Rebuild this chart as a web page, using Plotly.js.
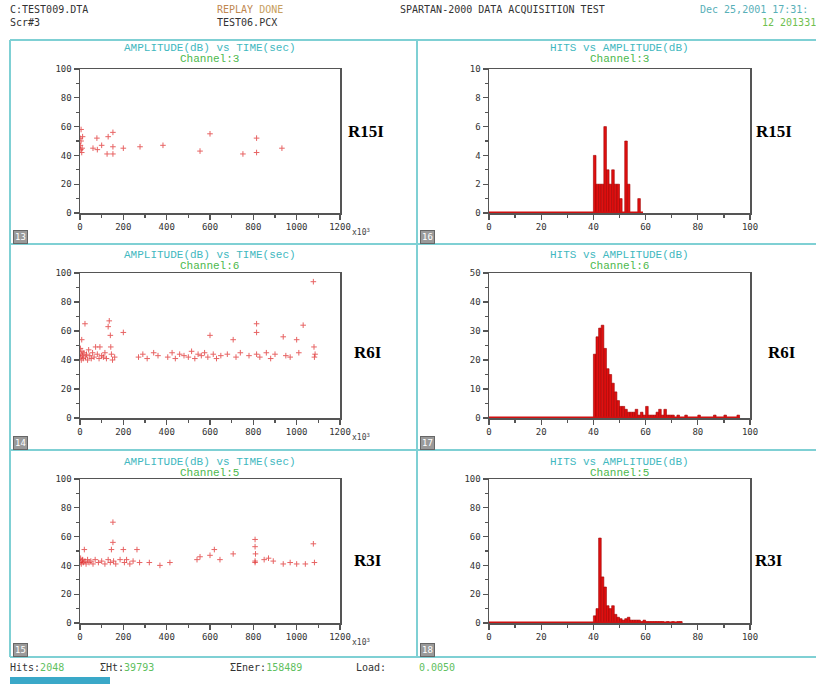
<!DOCTYPE html>
<html><head><meta charset="utf-8">
<script src="https://cdn.plot.ly/plotly-3.0.1.min.js"></script>
<style>html,body{margin:0;padding:0;background:#fff;}#chart{width:816px;height:684px;}</style>
</head><body><div id="chart"></div>
<script>
// ---------- DATA ----------
// Row 1 (R15I) amplitude vs time (time in x10^3 s)
const timeR15 = [0, 2, 4, 5, 5, 8, 10, 12, 60, 78, 80, 100, 125, 130, 152, 152, 152, 200, 277, 383, 554, 600, 752, 815, 815, 932];
const ampR15  = [52, 47, 44, 58, 50, 42, 45, 53, 45, 52, 44, 47, 41, 53, 56, 46, 41, 45, 46, 47, 43, 55, 41, 52, 42, 45];
// Row 2 (R6I)
const timeR6 = [0,2,4,6,8,9,12,15,18,23,26,30,35,40,45,52,58,65,72,80,88,92,100,108,115,122,130,135,140,142,145,150,160,200,270,290,310,340,360,405,425,440,460,480,500,515,530,545,560,575,590,600,615,630,650,680,707,720,740,780,815,815,815,830,860,880,900,938,950,970,1000,1010,1030,1077,1080,1082,1085];
const ampR6  = [42,48,44,40,54,46,43,41,45,65,42,44,40,47,43,41,45,42,49,44,41,49,43,42,45,41,63,67,57,49,44,40,42,59,42,44,41,45,43,42,45,41,44,43,42,46,41,44,43,45,42,57,44,41,43,44,54,42,45,43,65,59,44,42,45,41,44,56,43,42,54,45,64,94,49,42,44];
// Row 3 (R3I)
const timeR3 = [0,3,6,9,12,15,20,23,28,35,42,50,60,70,85,100,115,130,140,145,152,152,155,165,185,200,205,215,230,245,263,275,320,369,415,540,554,600,620,646,707,808,808,808,808,810,850,870,892,938,970,1000,1040,1077,1082];
const ampR3  = [42,45,41,43,44,42,51,43,41,44,42,43,41,44,42,43,41,44,42,51,70,56,43,41,44,51,42,44,41,43,51,42,42,40,42,44,46,47,51,44,48,43,42,58,53,48,44,45,43,41,42,41,41,55,42];

// Histograms: hits per 1 dB amplitude bin
const binsR15 = [40,41,42,43,44,45,46,47,48,49,50,52,53,57];
const hitsR15 = [4,2,2,2,6,3,2,3,2,2,1,5,2,1];
const lastBinR15 = 59;
const binsR6 = [40,41,42,43,44,45,46,47,48,49,50,51,52,53,54,55,56,57,58,59,60,61,62,63,64,65,66,67,68,69,70,72,75,80,86,90,95];
const hitsR6 = [22,28,31,32,24,17,15,12,9,6,4,4,3,2,2,2,3,1,2,1,4,1,1,1,2,3,1,3,1,1,1,1,1,1,1,1,1];
const lastBinR6 = 96;
const binsR3 = [40,41,42,43,44,45,46,47,48,49,50,51,52,53,54,55,56,57,58,59,60,61,62,63,64,65,66,68,70,72,73];
const hitsR3 = [5,10,59,32,25,12,10,12,6,4,3,2,3,4,2,2,2,2,1,2,1,1,1,1,1,1,1,1,1,1,1];
const lastBinR3 = 74;

const rowLabels = ['R15I', 'R6I', 'R3I'];
const channelLabels = ['Channel:3', 'Channel:6', 'Channel:5'];
const panelNumsLeft = ['13', '14', '15'];
const panelNumsRight = ['16', '17', '18'];
const histYMax = [10, 50, 100];
const histYMajor = [2, 10, 20];
const histYMinor = [1, 5, 10];

// ---------- LAYOUT HELPERS ----------
const W = 816, H = 684;
const px = x => x / W;
const py = y => 1 - y / H;
const colL = [80, 340], colR = [489, 750];
const rows = [[69, 213], [273, 418], [479, 623]];
const sepY = [40, 244, 450, 657];

const RED = '#e01010';
const tickFont = {family: 'DejaVu Sans Mono', size: 9, color: '#333'};

function axisBase(extra) {
  return Object.assign({
    showline: true, linecolor: '#555', linewidth: 1.5, mirror: true,
    ticks: 'outside', ticklen: 5, tickwidth: 1.2, tickcolor: '#555',
    showgrid: false, zeroline: false, tickfont: tickFont, fixedrange: true
  }, extra);
}

const data = [];
const layout = {
  width: W, height: H, margin: {l: 0, r: 0, t: 0, b: 0},
  paper_bgcolor: '#fff', plot_bgcolor: '#fff', showlegend: false,
  annotations: [], shapes: [], bargap: 0
};

const scatterSets = [[timeR15, ampR15], [timeR6, ampR6], [timeR3, ampR3]];
const histSets = [[binsR15, hitsR15, lastBinR15], [binsR6, hitsR6, lastBinR6], [binsR3, hitsR3, lastBinR3]];

for (let r = 0; r < 3; r++) {
  const li = 2 * r + 1, ri = 2 * r + 2;
  const lx = 'x' + (li === 1 ? '' : li), ly = 'y' + (li === 1 ? '' : li);
  const rx = 'x' + ri, ry = 'y' + ri;
  const yDom = [py(rows[r][1]), py(rows[r][0])];

  layout['xaxis' + (li === 1 ? '' : li)] = axisBase({domain: [px(colL[0]), px(colL[1])], anchor: ly, range: [0, 1200], dtick: 200, tick0: 0, minor: {dtick: 100, ticks: 'outside', ticklen: 3, tickcolor: '#555', showgrid: false}});
  layout['yaxis' + (li === 1 ? '' : li)] = axisBase({domain: yDom, anchor: lx, range: [0, 100], dtick: 20, tick0: 0, minor: {dtick: 10, ticks: 'outside', ticklen: 3, tickcolor: '#555', showgrid: false}});
  layout['xaxis' + ri] = axisBase({domain: [px(colR[0]), px(colR[1])], anchor: ry, range: [0, 100], dtick: 20, tick0: 0, minor: {dtick: 10, ticks: 'outside', ticklen: 3, tickcolor: '#555', showgrid: false}});
  layout['yaxis' + ri] = axisBase({domain: yDom, anchor: rx, range: [0, histYMax[r]], dtick: histYMajor[r], tick0: 0, minor: {dtick: histYMinor[r], ticks: 'outside', ticklen: 3, tickcolor: '#555', showgrid: false}});

  // scatter
  data.push({
    type: 'scatter', mode: 'markers', x: scatterSets[r][0], y: scatterSets[r][1],
    xaxis: lx, yaxis: ly,
    marker: {symbol: 'cross-thin', size: 4, color: '#e03030', opacity: 0.75, line: {width: 1, color: '#e03030'}}
  });
  // histogram baseline
  data.push({
    type: 'scatter', mode: 'lines', x: [0, histSets[r][2]], y: [0, 0],
    xaxis: rx, yaxis: ry, cliponaxis: false,
    line: {color: '#d01010', width: 3}
  });
  // histogram bars
  data.push({
    type: 'bar', x: histSets[r][0], y: histSets[r][1], width: 1, offset: 0,
    xaxis: rx, yaxis: ry,
    marker: {color: RED, line: {color: '#a00000', width: 0.6}}
  });

  // titles
  const tTop = r === 0 ? 48 : (r === 1 ? 255 : 462);
  const cTop = tTop + 11;
  const midL = (colL[0] + colL[1]) / 2, midR = (colR[0] + colR[1]) / 2;
  const tFont = {family: 'Liberation Mono', size: 11, color: '#3fb8c0'};
  const cFont = {family: 'Liberation Mono', size: 11, color: '#4cb84c'};
  layout.annotations.push(
    {xref: 'paper', yref: 'paper', x: px(midL), y: py(tTop), text: 'AMPLITUDE(dB) vs TIME(sec)', showarrow: false, font: tFont, xanchor: 'center', yanchor: 'middle'},
    {xref: 'paper', yref: 'paper', x: px(midL), y: py(cTop), text: channelLabels[r], showarrow: false, font: cFont, xanchor: 'center', yanchor: 'middle'},
    {xref: 'paper', yref: 'paper', x: px(midR), y: py(tTop), text: 'HITS vs AMPLITUDE(dB)', showarrow: false, font: tFont, xanchor: 'center', yanchor: 'middle'},
    {xref: 'paper', yref: 'paper', x: px(midR), y: py(cTop), text: channelLabels[r], showarrow: false, font: cFont, xanchor: 'center', yanchor: 'middle'},
    // x10^3
    {xref: 'paper', yref: 'paper', x: px(350), y: py(rows[r][1] + 19), text: 'x10<sup>3</sup>', showarrow: false, font: {family: 'DejaVu Sans Mono', size: 8, color: '#444'}, xanchor: 'left', yanchor: 'middle'},
    // R labels
    {xref: 'paper', yref: 'paper', x: px(r === 0 ? 366 : 368), y: py([131, 352, 560][r]), text: '<b>' + rowLabels[r] + '</b>', showarrow: false, font: {family: 'Liberation Serif', size: 17, color: '#000'}, xanchor: 'center', yanchor: 'middle'},
    {xref: 'paper', yref: 'paper', x: px([774, 782, 769][r]), y: py([131, 352, 560][r]), text: '<b>' + rowLabels[r] + '</b>', showarrow: false, font: {family: 'Liberation Serif', size: 17, color: '#000'}, xanchor: 'center', yanchor: 'middle'},
    // panel number boxes
    {xref: 'paper', yref: 'paper', x: px(20), y: py(sepY[r + 1] - 7), text: panelNumsLeft[r], showarrow: false, font: {family: 'DejaVu Sans Mono', size: 9, color: '#fff'}, bgcolor: '#9a9a9a', bordercolor: '#666', borderwidth: 1, borderpad: 1, xanchor: 'center', yanchor: 'middle'},
    {xref: 'paper', yref: 'paper', x: px(427), y: py(sepY[r + 1] - 7), text: panelNumsRight[r], showarrow: false, font: {family: 'DejaVu Sans Mono', size: 9, color: '#fff'}, bgcolor: '#9a9a9a', bordercolor: '#666', borderwidth: 1, borderpad: 1, xanchor: 'center', yanchor: 'middle'}
  );
}

// separator lines (cyan frame)
const cyan = '#7fd0d4';
sepY.forEach(y => layout.shapes.push({type: 'line', xref: 'paper', yref: 'paper', x0: px(10), x1: 1, y0: py(y), y1: py(y), line: {color: cyan, width: 2}}));
[10, 417].forEach(x => layout.shapes.push({type: 'line', xref: 'paper', yref: 'paper', x0: px(x), x1: px(x), y0: py(sepY[0]), y1: py(sepY[3]), line: {color: cyan, width: 2}}));
// blue function bar at the bottom
layout.shapes.push({type: 'rect', xref: 'paper', yref: 'paper', x0: px(10), x1: px(110), y0: py(684), y1: py(677), fillcolor: '#3aa8c8', line: {width: 0}});

// header & footer texts
const hdrFont = (c) => ({family: 'DejaVu Sans Mono', size: 10, color: c});
const txt = (x, y, t, c) => ({xref: 'paper', yref: 'paper', x: px(x), y: py(y), text: t, showarrow: false, font: hdrFont(c), xanchor: 'left', yanchor: 'middle'});
layout.annotations.push(
  txt(8, 10, 'C:TEST009.DTA', '#333'),
  txt(8, 22, 'Scr#3', '#333'),
  txt(215, 10, 'REPLAY <span style="color:#c8a060">DONE</span>', '#c08850'),
  txt(215, 22, 'TEST06.PCX', '#333'),
  txt(398, 10, 'SPARTAN-2000 DATA ACQUISITION TEST', '#333'),
  txt(698, 10, 'Dec 25,2001 17:31:', '#58b0b8'),
  txt(760, 22, '12 201331', '#70c050'),
  txt(8, 667, 'Hits:<span style="color:#60c060">2048</span>', '#333'),
  txt(98, 667, 'ΣHt:<span style="color:#60c060">39793</span>', '#333'),
  txt(228, 667, 'ΣEner:<span style="color:#60c060">158489</span>', '#333'),
  txt(354, 667, 'Load:', '#333'),
  txt(417, 667, '0.0050', '#60c060')
);

Plotly.newPlot('chart', data, layout, {displayModeBar: false, staticPlot: true});
</script></body></html>
